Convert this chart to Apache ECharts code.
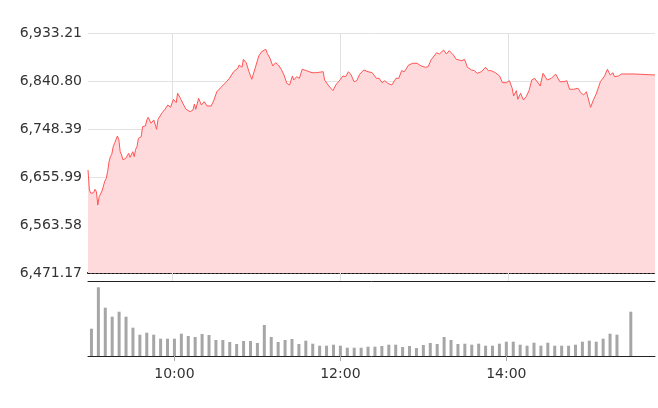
<!DOCTYPE html>
<html>
<head>
<meta charset="utf-8">
<script src="https://cdn.jsdelivr.net/npm/echarts@6/dist/echarts.min.js"></script>
<style>
html,body{margin:0;padding:0;background:#fff;}
#chart{width:658px;height:408px;}
</style>
</head>
<body>
<div id="chart"></div>
<script>
// ---- data ----
// y-axis tick labels (evenly spaced from 6,471.17 to 6,933.21)
const yMin = 6471.17;
const yMax = 6933.21;
const xLabelTimes = ['10:00', '12:00', '14:00'];

// price trace: minutes after 9:00 and index level
const priceMinutes = [0,1,2,4,5,6,7,8,9,10,11,12,13,14,15,16,17,18,19,20,21,22,23,24,25,26,27,28,29,30,32,33,34,35,36,38,39,40,41,42,43,45,47,49,50,53,55,57,59,61,63,64,66,68,70,73,75,76,77,79,81,83,85,88,90,92,95,99,101,104,107,108,110,111,113,115,117,119,122,124,127,128,130,132,134,136,138,140,142,144,146,147,149,151,153,156,160,163,168,169,172,175,177,180,182,184,186,188,190,192,194,197,200,203,206,208,210,212,214,217,220,222,224,226,229,232,235,238,241,243,245,249,251,254,256,258,261,263,267,269,271,274,276,278,281,284,286,288,291,292,294,296,299,301,303,304,306,307,309,311,313,315,317,319,322,323,325,326,328,331,334,337,340,342,344,347,350,352,354,356,359,361,363,366,369,371,373,375,376,379,381,390,391,405];
const priceValues = [6669.5,6631.0,6624.6,6625.8,6632.3,6627.7,6602.0,6618.1,6621.0,6629.0,6626.0,6648.0,6653.0,6666.0,6685.0,6695.0,6700.0,6714.4,6720.9,6717.6,6735.0,6728.0,6705.0,6698.4,6689.0,6688.0,6692.0,6690.1,6701.6,6693.9,6704.7,6695.1,6709.3,6714.4,6730.5,6733.6,6752.9,6756.1,6754.2,6765.8,6771.0,6759.4,6765.8,6747.8,6767.1,6779.8,6786.4,6794.6,6790.2,6805.6,6799.1,6817.2,6807.5,6796.6,6786.4,6781.7,6785.0,6796.6,6786.4,6807.5,6794.6,6801.0,6792.7,6792.7,6804.3,6820.2,6828.7,6839.5,6846.0,6858.7,6865.3,6871.6,6867.2,6882.6,6876.1,6858.7,6844.1,6862.0,6889.0,6897.2,6901.9,6894.2,6884.5,6869.7,6876.1,6871.6,6863.4,6852.4,6836.4,6833.1,6850.5,6842.8,6849.1,6846.0,6863.4,6860.7,6856.8,6856.8,6858.7,6842.8,6831.2,6822.2,6833.1,6842.8,6850.5,6849.1,6858.7,6852.4,6839.5,6841.4,6853.7,6862.0,6858.7,6856.8,6846.0,6846.0,6837.6,6841.4,6836.4,6833.1,6846.0,6846.0,6860.7,6858.7,6871.6,6874.9,6874.9,6869.7,6867.2,6868.4,6881.3,6895.3,6892.8,6900.5,6892.8,6899.2,6890.9,6882.6,6879.9,6882.6,6867.2,6862.0,6860.7,6855.7,6858.7,6867.2,6860.7,6860.7,6856.8,6854.3,6850.5,6837.6,6837.6,6841.4,6826.8,6812.0,6822.2,6805.6,6817.2,6804.3,6810.6,6822.2,6842.8,6846.0,6835.1,6831.2,6855.7,6856.8,6842.8,6846.0,6854.3,6839.5,6839.5,6841.4,6824.9,6824.9,6826.8,6818.3,6813.9,6820.2,6790.2,6804.3,6815.8,6839.5,6850.5,6863.4,6852.4,6856.8,6849.1,6850.5,6854.3,6854.3,6852.4,6852.4];

// 5-minute volume bars (index 0 = 9:00), arbitrary units
const volumeValues = [273,687,483,393,443,393,283,213,233,213,173,173,173,223,200,190,220,210,160,160,140,120,150,150,130,310,190,140,160,170,120,153,123,103,103,113,103,83,83,83,93,93,100,113,113,90,100,80,110,130,120,190,160,120,123,113,123,103,103,123,143,143,113,103,133,103,133,103,103,103,113,143,153,143,173,223,213,null,443];

// ---- axis categories ----
function hm(m){ const h = 9 + Math.floor(m/60), mm = m % 60; return h + ':' + (mm < 10 ? '0' : '') + mm; }
const minuteCats = []; for (let m = 0; m <= 405; m++) minuteCats.push(hm(m));
const slotCats = []; for (let k = 0; k < 82; k++) slotCats.push(hm(k*5));

const priceData = priceMinutes.map((m, i) => [m, priceValues[i]]);
const isLabelTime = (i, v) => xLabelTimes.indexOf(v) >= 0;

function fmt(v){
  const s = v.toFixed(2); const parts = s.split('.');
  return parts[0].replace(/\B(?=(\d{3})+(?!\d))/g, ',') + '.' + parts[1];
}

const font = 'DejaVu Sans';
const chart = echarts.init(document.getElementById('chart'), null, {renderer: 'canvas'});
chart.setOption({
  animation: false,
  textStyle: {fontFamily: font},
  grid: [
    {left: 88, right: 3, top: 33, bottom: 135},
    {left: 88, right: 3, top: 281, bottom: 52}
  ],
  xAxis: [
    {
      type: 'category', gridIndex: 0, data: minuteCats, boundaryGap: false,
      axisLine: {show: true, lineStyle: {color: '#111', width: 2, type: [2, 2]}},
      axisTick: {show: true, interval: isLabelTime, length: 8, lineStyle: {color: '#e2e2e2'}},
      axisLabel: {show: false},
      splitLine: {show: true, interval: isLabelTime, lineStyle: {color: '#e2e2e2'}}
    },
    {
      type: 'category', gridIndex: 1, data: slotCats, boundaryGap: true,
      axisLine: {show: true, lineStyle: {color: '#222', width: 1}},
      axisTick: {show: true, alignWithLabel: true, interval: isLabelTime, length: 5, lineStyle: {color: '#aaa'}},
      axisLabel: {show: true, interval: isLabelTime, margin: 11, fontSize: 14, color: '#333', fontFamily: font},
      splitLine: {show: false}
    },
    {
      type: 'category', gridIndex: 1, data: slotCats, position: 'top',
      axisLine: {show: true, lineStyle: {color: '#222', width: 1}},
      axisTick: {show: false}, axisLabel: {show: false}, splitLine: {show: false}
    }
  ],
  yAxis: [
    {
      type: 'value', gridIndex: 0, min: yMin, max: yMax, interval: (yMax - yMin) / 5,
      axisLine: {show: false}, axisTick: {show: false},
      axisLabel: {formatter: fmt, fontSize: 14, color: '#333', margin: 6, fontFamily: font},
      splitLine: {lineStyle: {color: '#e2e2e2'}}
    },
    {
      type: 'value', gridIndex: 1, min: 0, max: 750,
      axisLine: {show: false}, axisTick: {show: false}, axisLabel: {show: false}, splitLine: {show: false}
    }
  ],
  series: [
    {
      type: 'line', xAxisIndex: 0, yAxisIndex: 0, data: priceData,
      symbol: 'none', smooth: false,
      lineStyle: {color: '#ff5555', width: 1},
      areaStyle: {color: '#fedadd', opacity: 1}
    },
    {
      type: 'bar', xAxisIndex: 1, yAxisIndex: 1, data: volumeValues,
      barWidth: 3, itemStyle: {color: '#a6a6a6'}
    }
  ]
});
</script>
</body>
</html>
